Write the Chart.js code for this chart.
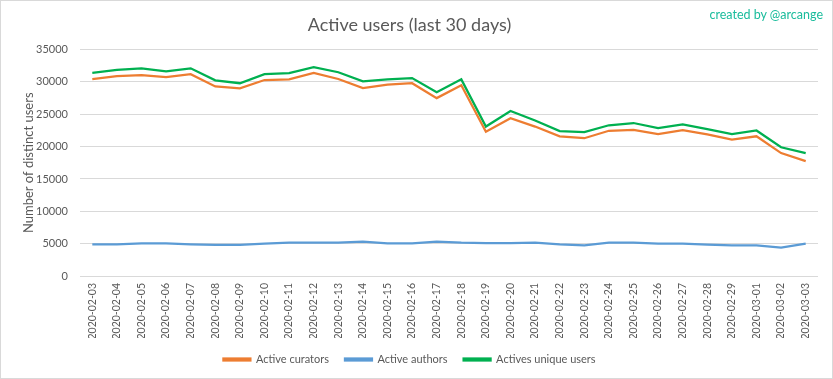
<!DOCTYPE html>
<html>
<head>
<meta charset="utf-8">
<script src="https://cdn.jsdelivr.net/npm/chart.js@4/dist/chart.umd.min.js"></script>
<style>
  html, body { margin: 0; padding: 0; background: #fff; }
  #wrap { position: relative; width: 833px; height: 379px; box-sizing: border-box; border: 1px solid #d9d9d9; }
  canvas { position: absolute; left: 0; top: 0; }
  #credit { position: absolute; right: 9px; top: 6px; font: 12.5px Lato, "Open Sans", sans-serif; color: #1ABC9C; }
</style>
</head>
<body>
<div id="wrap">
  <canvas id="c" width="831" height="377"></canvas>
  <div id="credit">created by @arcange</div>
</div>
<script>
const categories = [
  "2020-02-03","2020-02-04","2020-02-05","2020-02-06","2020-02-07","2020-02-08","2020-02-09","2020-02-10",
  "2020-02-11","2020-02-12","2020-02-13","2020-02-14","2020-02-15","2020-02-16","2020-02-17","2020-02-18",
  "2020-02-19","2020-02-20","2020-02-21","2020-02-22","2020-02-23","2020-02-24","2020-02-25","2020-02-26",
  "2020-02-27","2020-02-28","2020-02-29","2020-03-01","2020-03-02","2020-03-03"
];
const activeCurators = [
  30450, 30900, 31050, 30750, 31200, 29300, 29000, 30300, 30400, 31400,
  30450, 29050, 29600, 29800, 27500, 29500, 22300, 24400, 23100, 21600,
  21300, 22450, 22600, 21950, 22550, 21900, 21100, 21600, 19000, 17750
];
const activeAuthors = [
  4900, 4900, 5050, 5050, 4900, 4800, 4800, 5000, 5150, 5150,
  5150, 5300, 5050, 5050, 5300, 5150, 5100, 5100, 5150, 4900,
  4750, 5150, 5150, 5000, 5000, 4850, 4750, 4750, 4400, 5000
];
const activesUniqueUsers = [
  31400, 31850, 32100, 31650, 32100, 30250, 29800, 31200, 31350, 32300,
  31500, 30100, 30400, 30600, 28400, 30400, 23100, 25500, 24050, 22400,
  22250, 23300, 23650, 22850, 23450, 22700, 21950, 22500, 19900, 19000
];
const yTicks = [0, 5000, 10000, 15000, 20000, 25000, 30000, 35000];

const FONT = "Lato, 'Open Sans', sans-serif";
const TXT = "#595959";

new Chart(document.getElementById("c"), {
  type: "line",
  data: {
    labels: categories,
    datasets: [
      { label: "Active curators", data: activeCurators, borderColor: "#ED7D31", backgroundColor: "#ED7D31", borderWidth: 2.25, pointRadius: 0, tension: 0 },
      { label: "Active authors", data: activeAuthors, borderColor: "#5B9BD5", backgroundColor: "#5B9BD5", borderWidth: 2.25, pointRadius: 0, tension: 0 },
      { label: "Actives unique users", data: activesUniqueUsers, borderColor: "#00B050", backgroundColor: "#00B050", borderWidth: 2.25, pointRadius: 0, tension: 0 }
    ]
  },
  options: {
    responsive: false,
    animation: false,
    events: [],
    layout: { padding: { left: 0, right: 14, top: 0, bottom: 3 } },
    plugins: {
      title: {
        display: true,
        text: "Active users (last 30 days)",
        color: TXT,
        font: { family: FONT, size: 18, weight: "normal" },
        padding: { top: 13, bottom: 14 }
      },
      legend: {
        position: "bottom",
        labels: {
          color: TXT,
          font: { family: FONT, size: 11 },
          boxWidth: 27,
          boxHeight: 2,
          padding: 16
        }
      },
      tooltip: { enabled: false }
    },
    scales: {
      x: {
        offset: true,
        grid: { display: false, drawTicks: false },
        border: { display: false },
        ticks: {
          color: TXT,
          font: { family: FONT, size: 10.5 },
          minRotation: 90,
          maxRotation: 90,
          autoSkip: false,
          padding: 7
        },
        afterFit: s => { s.height = 62; }
      },
      y: {
        min: 0,
        max: 35000,
        afterBuildTicks: s => { s.ticks = yTicks.map(v => ({ value: v })); },
        grid: { color: "#d9d9d9", drawTicks: false, lineWidth: 1 },
        border: { display: false },
        ticks: {
          color: TXT,
          font: { family: FONT, size: 11 },
          padding: 12,
          callback: v => String(v)
        },
        title: {
          display: true,
          text: "Number of distinct users",
          color: TXT,
          font: { family: FONT, size: 13 },
          padding: { top: 20, bottom: 0 }
        },
        afterFit: s => { s.width = 79; }
      }
    }
  }
});
</script>
</body>
</html>
